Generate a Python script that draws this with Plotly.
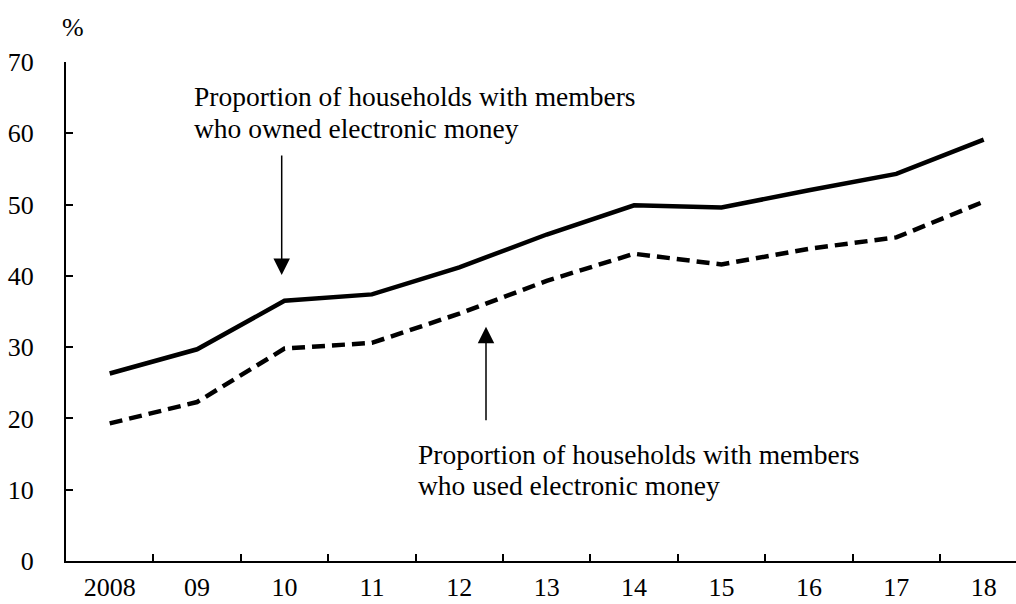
import plotly.graph_objects as go

years = ["2008", "09", "10", "11", "12", "13", "14", "15", "16", "17", "18"]
owned = [26.3, 29.7, 36.5, 37.4, 41.2, 45.8, 49.9, 49.6, 52.0, 54.3, 59.1]
used = [19.3, 22.3, 29.8, 30.6, 34.7, 39.3, 43.1, 41.6, 43.8, 45.4, 50.4]
y_ticks = [0, 10, 20, 30, 40, 50, 60, 70]

FONT = "Liberation Serif"

fig = go.Figure()
fig.add_trace(go.Scatter(x=years, y=owned, mode="lines",
                         line=dict(color="black", width=4.5)))
fig.add_trace(go.Scatter(x=years, y=used, mode="lines",
                         line=dict(color="black", width=4.5, dash="13px,7px")))

W, H = 1016, 604
L, R, T, B = 66, 0, 62, 43
pw, ph = W - L - R, H - T - B


def px(x):
    return (x - L) / pw


def py(y):
    return (H - B - y) / ph


ann = []
for txt, x, y in [
    ("Proportion of households with members", 192.3, 97),
    ("who owned electronic money", 192.3, 128.3),
    ("Proportion of households with members", 415.7, 454.3),
    ("who used electronic money", 415.7, 485.3),
]:
    ann.append(dict(text=txt, x=px(x), y=py(y), xref="paper", yref="paper",
                    xanchor="left", yanchor="middle", showarrow=False,
                    font=dict(family=FONT, size=27.5, color="black")))

ann.append(dict(text="%", x=px(73), y=py(28), xref="paper", yref="paper",
                xanchor="center", yanchor="middle", showarrow=False,
                font=dict(family=FONT, size=26, color="black")))

for tipx, tipy, taily in [(281.7, 275, 154), (486, 326.7, 421.7)]:
    ann.append(dict(text="", x=px(tipx), y=py(tipy), xref="paper", yref="paper",
                    ax=0, ay=taily - tipy, showarrow=True, arrowhead=2,
                    arrowsize=2.2, arrowwidth=1.5, arrowcolor="black"))

fig.update_layout(
    width=W, height=H,
    margin=dict(l=L, r=R, t=T, b=B, autoexpand=False),
    paper_bgcolor="white", plot_bgcolor="white",
    showlegend=False,
    font=dict(family=FONT, size=26, color="black"),
    annotations=ann,
)
fig.update_xaxes(type="category", range=[-0.5, -0.5 + pw / 87.4],
                 tickson="boundaries", ticks="inside", ticklen=7, tickwidth=2,
                 tickcolor="black", showline=True, linecolor="black", linewidth=2,
                 showgrid=False, zeroline=False, ticklabelstandoff=2,
                 automargin=False,
                 tickfont=dict(family=FONT, size=26, color="black"))
fig.update_yaxes(range=[0, 70], tickvals=y_ticks, ticks="inside", ticklen=7,
                 tickwidth=2, tickcolor="black", showline=True, linecolor="black",
                 linewidth=2, showgrid=False, zeroline=False, ticklabelstandoff=25,
                 automargin=False,
                 tickfont=dict(family=FONT, size=26, color="black"))

fig.write_html("out.html", config={"displayModeBar": False},
               post_script="document.body.style.margin='0';document.body.style.overflow='hidden';")
